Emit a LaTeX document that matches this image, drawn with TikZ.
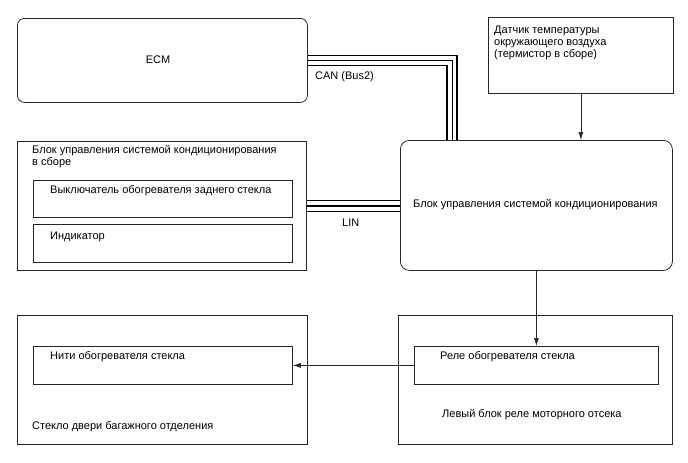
\documentclass[tikz,border=0pt]{standalone}
\usepackage{fontspec}
\setmainfont{Liberation Sans}
\usetikzlibrary{arrows.meta,positioning}
\begin{document}
\begin{tikzpicture}[x=1pt, y=-1pt,
  every node/.style={font=\fontsize{11}{12.5}\selectfont, inner sep=0pt},
  blk/.style={draw=black!85, line width=0.8pt, rectangle, anchor=north west},
  rblk/.style={blk, rounded corners=7pt},
  txt/.style={anchor=west, align=left},
  arr/.style={-{Latex[length=8pt,width=5pt]}, line width=0.7pt, black!85}]
  \useasboundingbox (0,0) rectangle (688,463);
  % Top row: ECM and sensor
  \node[rblk, minimum width=290pt, minimum height=84pt] (ecm) at (17,18) {};
  \node (ecmtxt) at (158,60) {ECM};
  \node[blk, minimum width=185pt, minimum height=76pt] (sensor) at (488,17) {};
  \node[txt, anchor=north west, font=\fontsize{11}{12}\selectfont] (sensortxt) at (494,26) {Датчик температуры\\окружающего воздуха\\(термистор в сборе)};
  % A/C control panel assembly
  \node[blk, minimum width=289pt, minimum height=129pt] (asm) at (17,141) {};
  \node[txt, anchor=north west] (asmtxt) at (32,145) {Блок управления системой кондиционирования\\в сборе};
  \node[blk, minimum width=259pt, minimum height=37pt] (sw) at (33,180) {};
  \node[txt] (swtxt) at (50,191) {Выключатель обогревателя заднего стекла};
  \node[blk, minimum width=259pt, minimum height=38pt] (ind) at (33,224) {};
  \node[txt] (indtxt) at (50,237) {Индикатор};
  % A/C control unit
  \node[rblk, rounded corners=9pt, minimum width=272pt, minimum height=130pt] (acu) at (400,140) {};
  \node[txt] (acutxt) at (413,205) {Блок управления системой кондиционирования};
  % Bottom row: glass and relay block
  \node[blk, minimum width=290pt, minimum height=129pt] (glass) at (17,315) {};
  \node[blk, minimum width=259pt, minimum height=38pt] (heater) at (33,346) {};
  \node[txt] (heatertxt) at (50,357) {Нити обогревателя стекла};
  \node[txt] (glasstxt) at (32,427) {Стекло двери багажного отделения};
  \node[blk, minimum width=274pt, minimum height=129pt] (rblock) at (398,315) {};
  \node[blk, minimum width=244pt, minimum height=38pt] (relay) at (414,346) {};
  \node[txt] (relaytxt) at (440,357) {Реле обогревателя стекла};
  \node[txt] (rblocktxt) at (442,415) {Левый блок реле моторного отсека};
  % CAN bus
  \coordinate (can) at (452,0);
  \foreach \d/\w in {5/1.8, 0/0.7, -5/1.8} {
    \draw[line width=\w pt] ([yshift=\d pt]ecm.east) -| ([xshift=\d pt]acu.north -| can);
  }
  \node[txt] (cantxt) at (315,77) {CAN (Bus2)};
  % LIN bus
  \foreach \d/\w in {6/0.7, 0/2.8, -5/0.7} {
    \draw[line width=\w pt] ([yshift=\d pt]asm.east) -- ([yshift=\d pt]asm.east -| acu.west);
  }
  \node[txt] (lintxt) at (342,223) {LIN};
  % Signal arrows
  \draw[arr] (sensor.south) -- (sensor.south |- acu.north);
  \draw[arr] (acu.south) -- (relay.north);
  \draw[arr] (relay.west) -- (heater.east);
\end{tikzpicture}
\end{document}
